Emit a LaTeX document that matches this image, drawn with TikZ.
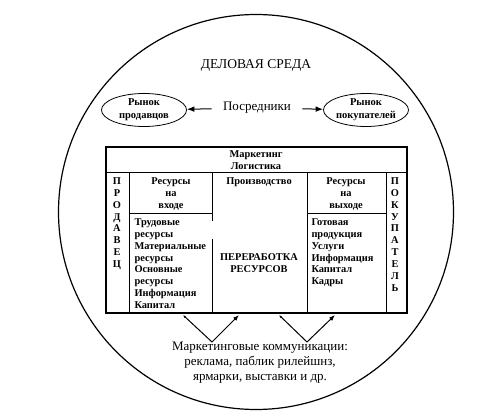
\documentclass[tikz,border=0pt]{standalone}
\usepackage{fontspec}
\setmainfont{Liberation Serif}
\usetikzlibrary{arrows.meta,positioning,shapes.geometric}

\begin{document}
\begin{tikzpicture}[x=1pt,y=-1pt,line width=1pt,
  every node/.style={align=center,inner sep=0pt},
  cell/.style={font=\bfseries\fontsize{10.4}{11.9}\selectfont},
  market/.style={draw,ellipse,line width=0.8pt,minimum width=85pt,minimum height=33pt,font=\bfseries\fontsize{10.5}{13}\selectfont},
  plain/.style={font=\fontsize{13}{15}\selectfont}]
\useasboundingbox (0,0) rectangle (504,417);
% деловая среда
\draw[line width=1.2pt] (256,212) circle (197.5);
\node[plain,font=\fontsize{13.5}{15}\selectfont] (env) at (256,65) {ДЕЛОВАЯ СРЕДА};
\node[market] (sell) at (144,110) {Рынок\\продавцов};
\node[market] (buy) at (366,110) {Рынок\\покупателей};
\node[plain,inner xsep=11pt] (mid) at (257,108) {Посредники};
\draw[-Latex] (mid) -- (sell); \draw[-Latex] (mid) -- (buy);
% таблица
\draw[line width=1.3pt] (106,147) rectangle (407,313);
\draw (106,173) -- (407,173);
\draw (129,173) -- (129,313); \draw (307,173) -- (307,313); \draw (386,173) -- (386,313);
\draw (212,173) -- (212,221); \draw (212,239) -- (212,313);
\draw (129,214) -- (212,214); \draw (307,214) -- (386,214);
\node[cell] (mkt) at (256,160) {Маркетинг\\Логистика};
\node[cell,anchor=north] (seller) at (117,177) {П\\Р\\О\\Д\\А\\В\\Е\\Ц};
\node[cell,anchor=north] (buyer) at (395,177) {П\\О\\К\\У\\П\\А\\Т\\Е\\Л\\Ь};
\node[cell,anchor=north] (in) at (171,177) {Ресурсы\\на\\входе};
\node[cell,anchor=north] (prod) at (259,177) {Производство};
\node[cell,anchor=north] (out) at (346,177) {Ресурсы\\на\\выходе};
\node[cell,anchor=north west,align=left] (inlist) at (134,218) {Трудовые\\ресурсы\\Материальные\\ресурсы\\Основные\\ресурсы\\Информация\\Капитал};
\node[cell] (proc) at (259,263) {ПЕРЕРАБОТКА\\РЕСУРСОВ};
\node[cell,anchor=north west,align=left] (outlist) at (311,218) {Готовая\\продукция\\Услуги\\Информация\\Капитал\\Кадры};
% коммуникации
\coordinate (a1) at (183,315); \coordinate (v1) at (212,342); \coordinate (b1) at (239,315);
\coordinate (a2) at (279,315); \coordinate (v2) at (307,342); \coordinate (b2) at (335,315);
\draw[{Latex[length=3pt]}-{Latex[length=6pt]}] (a1) -- (v1) -- (b1);
\draw[{Latex[length=3pt]}-{Latex[length=6pt]}] (a2) -- (v2) -- (b2);
\node[plain] (comm) at (260,363) {Маркетинговые коммуникации:\\реклама, паблик рилейшнз,\\ярмарки, выставки и др.};
\end{tikzpicture}
\end{document}
